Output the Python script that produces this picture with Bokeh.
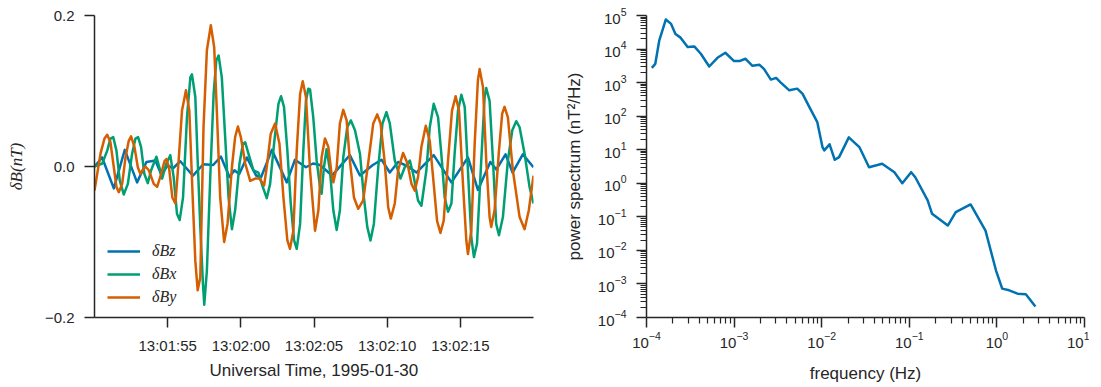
import pandas as pd
from bokeh.plotting import figure
from bokeh.models import Range1d, FixedTicker, DatetimeTickFormatter, CustomJSTickFormatter, LogTickFormatter
from bokeh.layouts import row
from bokeh.embed import file_html
from bokeh.resources import INLINE

# ---------------- data: time series ----------------
date_str = "1995-01-30"
start_time = "13:01:50"
end_time = "13:02:20"
tick_times = ["13:01:55", "13:02:00", "13:02:05", "13:02:10", "13:02:15"]
y_ticks = [-0.2, 0.0, 0.2]

# seconds after 13:01:50
t_bz = [0, 0.52, 1.32, 2.07, 2.91, 3.55, 4.16, 4.57, 4.98, 5.39, 5.86, 6.73, 7.43, 8.11, 8.64,
        9.22, 9.56, 9.89, 10.41, 11.05, 11.39, 12.12, 13.14, 13.70, 14.45, 14.93, 15.41, 16.23,
        17.45, 18.14, 19.02, 19.62, 20.18, 20.75, 21.43, 22.00, 22.57, 23.18, 24.39, 25.52,
        26.20, 27.05, 27.46, 28.09, 28.57, 29.27, 30.0]
bz = [0.000, 0.012, -0.029, 0.022, -0.021, 0.006, 0.008, -0.011, 0.001, -0.002, 0.007, -0.012,
      0.003, 0.002, 0.013, -0.014, -0.005, -0.010, 0.012, -0.012, -0.014, 0.022, -0.021, 0.009,
      -0.001, 0.004, 0.002, -0.012, 0.015, -0.012, 0.002, 0.009, -0.008, 0.006, 0.000, -0.008,
      0.003, 0.015, -0.021, 0.012, -0.031, 0.006, -0.004, 0.016, -0.008, 0.016, -0.001]

t_bx = [0.00, 0.53, 0.87, 1.09, 1.28, 1.50, 1.73, 2.00, 2.28, 2.57, 2.80, 2.98, 3.18, 3.41, 3.64,
        3.87, 4.23, 4.43, 4.62, 4.91, 5.18, 5.41, 5.64, 5.82, 6.05, 6.32, 6.55, 6.66, 6.89, 7.05,
        7.23, 7.41, 7.50, 7.68, 7.91, 8.14, 8.32, 8.48, 8.70, 8.93, 9.16, 9.39, 9.61, 9.91, 10.14,
        10.30, 10.52, 10.86, 11.20, 11.50, 11.77, 12.00, 12.27, 12.57, 12.75, 12.95, 13.18, 13.41,
        13.64, 13.82, 14.05, 14.27, 14.45, 14.61, 14.73, 14.95, 15.18, 15.41, 15.52, 15.68, 15.86,
        16.09, 16.32, 16.55, 16.77, 17.00, 17.27, 17.52, 17.80, 18.14, 18.41, 18.64, 18.86, 19.09,
        19.39, 19.68, 19.95, 20.18, 20.52, 20.91, 21.20, 21.55, 21.82, 22.11, 22.34, 22.68, 22.91,
        23.18, 23.48, 23.70, 23.93, 24.16, 24.39, 24.61, 24.84, 25.07, 25.30, 25.52, 25.75, 25.93,
        26.14, 26.43, 26.66, 26.77, 27.00, 27.23, 27.45, 27.64, 27.91, 28.25, 28.55, 28.82, 29.05,
        29.39, 29.73, 30.00]
bx = [0.000, 0.004, 0.021, 0.037, 0.039, 0.021, -0.019, -0.037, -0.023, 0.017, 0.037, 0.039,
      0.026, -0.010, -0.022, -0.005, 0.013, -0.001, -0.016, 0.004, 0.015, -0.014, -0.063, -0.071,
      -0.041, 0.065, 0.118, 0.122, 0.092, 0.008, -0.080, -0.155, -0.183, -0.138, -0.014, 0.096,
      0.140, 0.147, 0.118, 0.039, -0.041, -0.083, -0.058, 0.004, 0.030, 0.032, 0.017, -0.005,
      -0.008, -0.027, -0.042, -0.023, 0.030, 0.083, 0.093, 0.079, 0.021, -0.049, -0.098, -0.109,
      -0.076, 0.021, 0.087, 0.103, 0.102, 0.065, 0.008, -0.027, -0.036, -0.001, 0.023, -0.005,
      -0.058, -0.084, -0.058, 0.012, 0.052, 0.061, 0.048, 0.017, -0.041, -0.080, -0.098, -0.076,
      -0.001, 0.057, 0.072, 0.057, 0.008, -0.016, -0.001, 0.008, -0.014, -0.045, -0.052, -0.005,
      0.052, 0.083, 0.065, 0.017, -0.041, -0.060, -0.049, 0.017, 0.074, 0.095, 0.079, -0.005,
      -0.094, -0.120, -0.102, 0.008, 0.092, 0.104, 0.087, 0.008, -0.076, -0.091, -0.067, 0.008,
      0.048, 0.060, 0.052, 0.017, -0.027, -0.049]

t_by = [0.00, 0.41, 0.68, 0.87, 1.09, 1.32, 1.50, 1.66, 1.89, 2.12, 2.34, 2.50, 2.73, 2.96, 3.14,
        3.32, 3.48, 3.71, 4.05, 4.28, 4.55, 4.78, 4.91, 5.09, 5.32, 5.53, 5.75, 5.98, 6.25, 6.48,
        6.71, 6.89, 7.05, 7.23, 7.45, 7.68, 7.95, 8.18, 8.36, 8.59, 8.86, 9.09, 9.39, 9.61, 9.80,
        10.00, 10.30, 10.64, 10.98, 11.27, 11.59, 11.77, 12.04, 12.34, 12.64, 12.91, 13.18, 13.36,
        13.59, 13.82, 14.05, 14.23, 14.45, 14.73, 15.07, 15.30, 15.52, 15.75, 15.98, 16.20, 16.32,
        16.55, 16.77, 17.00, 17.23, 17.45, 17.73, 18.02, 18.36, 18.70, 19.05, 19.32, 19.55, 19.84,
        20.07, 20.25, 20.52, 20.75, 21.09, 21.39, 21.66, 21.89, 22.11, 22.34, 22.64, 22.91, 23.18,
        23.41, 23.64, 23.86, 24.16, 24.43, 24.68, 24.91, 25.18, 25.41, 25.52, 25.75, 25.98, 26.20,
        26.32, 26.55, 26.77, 27.00, 27.11, 27.34, 27.64, 27.86, 28.02, 28.25, 28.59, 29.05, 29.39,
        29.68, 30.00]
by = [-0.032, 0.017, 0.037, 0.042, 0.032, -0.001, -0.027, -0.034, -0.023, 0.012, 0.034, 0.040,
      0.026, -0.001, -0.010, -0.004, 0.000, -0.005, -0.023, -0.027, -0.010, 0.007, 0.010, -0.001,
      -0.041, -0.049, 0.008, 0.074, 0.101, 0.074, -0.041, -0.125, -0.164, -0.147, 0.052, 0.154,
      0.187, 0.158, 0.074, -0.041, -0.100, -0.076, -0.001, 0.039, 0.053, 0.039, 0.004, -0.019,
      -0.016, -0.016, -0.025, -0.001, 0.043, 0.057, 0.030, -0.041, -0.098, -0.109, -0.085, 0.021,
      0.096, 0.113, 0.092, -0.005, -0.085, -0.058, 0.012, 0.037, 0.026, -0.010, -0.021, -0.001,
      0.057, 0.075, 0.061, 0.008, -0.041, -0.056, -0.045, 0.004, 0.057, 0.069, 0.057, 0.004,
      -0.054, -0.069, -0.049, -0.005, 0.018, 0.004, -0.023, -0.032, -0.014, 0.026, 0.054, 0.034,
      -0.023, -0.072, -0.088, -0.072, 0.008, 0.074, 0.093, 0.074, -0.023, -0.098, -0.116, -0.085,
      0.030, 0.114, 0.129, 0.105, 0.008, -0.067, -0.080, -0.058, 0.021, 0.070, 0.079, 0.065,
      -0.005, -0.067, -0.083, -0.058, -0.012]

# ---------------- data: power spectrum ----------------
freq = [1.15e-4, 1.26e-4, 1.40e-4, 1.66e-4, 1.91e-4, 2.14e-4, 2.45e-4, 2.95e-4, 3.51e-4, 4.17e-4,
        5.20e-4, 6.46e-4, 7.94e-4, 1.00e-3, 1.15e-3, 1.35e-3, 1.62e-3, 1.95e-3, 2.19e-3, 2.63e-3,
        3.02e-3, 3.39e-3, 4.27e-3, 5.25e-3, 6.03e-3, 7.24e-3, 8.91e-3, 1.02e-2, 1.07e-2, 1.23e-2,
        1.41e-2, 1.58e-2, 2.04e-2, 2.69e-2, 3.47e-2, 4.90e-2, 6.76e-2, 8.32e-2, 1.05e-1, 1.17e-1,
        1.62e-1, 1.82e-1, 2.75e-1, 3.39e-1, 5.01e-1, 7.41e-1, 9.77e-1, 1.15, 1.38, 1.72, 2.14, 2.75]
power = [2750, 3630, 18200, 75900, 56200, 28200, 21900, 11500, 12000, 7240,
         3020, 5500, 7760, 4370, 4370, 5130, 3160, 3390, 2570, 1230,
         1380, 1020, 589, 661, 468, 186, 66.1, 12.0, 9.55, 14.5,
         5.01, 6.03, 23.4, 12.0, 3.02, 3.80, 2.14, 1.00, 2.14, 1.51,
         0.309, 0.123, 0.055, 0.138, 0.234, 0.0389, 0.00251, 0.000724, 0.000646, 0.000513,
         0.000490, 0.000214]
x_decades = [1e-4, 1e-3, 1e-2, 1e-1, 1e0, 1e1]
y_decades = [1e-4, 1e-3, 1e-2, 1e-1, 1e0, 1e1, 1e2, 1e3, 1e4, 1e5]

# ---------------- styling ----------------
AX = "#262626"
FONT = "Liberation Sans"
SERIF = "Liberation Serif"
C_BZ, C_BX, C_BY = "#0072B2", "#009E73", "#D55E00"


def style_axes(p):
    for ax in (p.xaxis[0], p.yaxis[0]):
        ax.axis_line_color = AX
        ax.axis_line_width = 1.5
        ax.major_tick_line_color = AX
        ax.major_tick_line_width = 1.5
        ax.minor_tick_line_color = AX
        ax.minor_tick_line_width = 1.2
        ax.major_tick_out = 10
        ax.major_tick_in = 0
        ax.minor_tick_out = 6
        ax.minor_tick_in = 0
        ax.major_label_text_font = FONT
        ax.major_label_text_font_size = "15px"
        ax.major_label_text_color = AX
        ax.major_label_standoff = 10
        ax.axis_label_text_font = FONT
        ax.axis_label_text_font_size = "17px"
        ax.axis_label_text_font_style = "normal"
        ax.axis_label_text_color = AX
        ax.axis_label_standoff = 8
    p.xgrid.visible = False
    p.ygrid.visible = False
    p.outline_line_color = None
    p.background_fill_color = "white"
    p.border_fill_color = "white"


base = pd.Timestamp(f"{date_str} {start_time}")


def to_dt(ts):
    return base + pd.to_timedelta(ts, unit="s")


p1 = figure(frame_width=439, frame_height=302,
            min_border_left=94, min_border_right=27, min_border_top=15, min_border_bottom=0,
            x_axis_type="datetime",
            x_range=Range1d(base, pd.Timestamp(f"{date_str} {end_time}")),
            y_range=Range1d(-0.2, 0.2),
            output_backend="svg", toolbar_location=None)
style_axes(p1)
p1.xaxis.major_label_standoff = 9
p1.xaxis.axis_label_standoff = 4
p1.yaxis.axis_label_standoff = 16

p1.line(to_dt(t_bz), bz, line_color=C_BZ, line_width=2.5, line_join="round", legend_label="δBz")
p1.line(to_dt(t_bx), bx, line_color=C_BX, line_width=2.5, line_join="round", legend_label="δBx")
p1.line(to_dt(t_by), by, line_color=C_BY, line_width=2.5, line_join="round", legend_label="δBy")

tick_ms = [pd.Timestamp(f"{date_str} {t}").value / 1e6 for t in tick_times]
p1.xaxis.ticker = FixedTicker(ticks=tick_ms, minor_ticks=[])
fmt = "%H:%M:%S"
p1.xaxis.formatter = DatetimeTickFormatter(milliseconds=fmt, seconds=fmt, minsec=fmt,
                                           minutes=fmt, hourmin=fmt, hours=fmt)
p1.yaxis.ticker = FixedTicker(ticks=y_ticks, minor_ticks=[])
p1.yaxis.formatter = CustomJSTickFormatter(
    code="return (tick < -1e-9 ? '\u2212' : '') + Math.abs(tick).toFixed(1);")
p1.xaxis.axis_label = f"Universal Time, {date_str}"
p1.yaxis.axis_label = "δB(nT)"
p1.yaxis.axis_label_text_font = SERIF
p1.yaxis.axis_label_text_font_style = "italic"
p1.yaxis.axis_label_text_font_size = "17px"

lg = p1.legend[0]
lg.location = (13, 10)
lg.padding = 0
lg.margin = 0
lg.spacing = 3
lg.glyph_width = 33
lg.glyph_height = 20
lg.label_height = 20
lg.label_standoff = 12
lg.label_text_font = SERIF
lg.label_text_font_style = "italic"
lg.label_text_font_size = "16px"
lg.label_text_color = AX
lg.border_line_color = None
lg.background_fill_alpha = 0

p2 = figure(frame_width=438, frame_height=302,
            min_border_left=86, min_border_right=5, min_border_top=15, min_border_bottom=0,
            x_axis_type="log", y_axis_type="log",
            x_range=Range1d(1e-4, 1e1), y_range=Range1d(1e-4, 1e5),
            output_backend="svg", toolbar_location=None)
style_axes(p2)
p2.xaxis.major_label_standoff = 4
p2.xaxis.axis_label_standoff = 13
p2.yaxis.axis_label_standoff = 11
p2.line(freq, power, line_color=C_BZ, line_width=2.5, line_join="round")
minor_x = [k * d for d in x_decades[:-1] for k in range(2, 10)]
minor_y = [k * d for d in y_decades[:-1] for k in range(2, 10)]
p2.xaxis.ticker = FixedTicker(ticks=x_decades, minor_ticks=minor_x)
p2.yaxis.ticker = FixedTicker(ticks=y_decades, minor_ticks=minor_y)
p2.xaxis.formatter = LogTickFormatter()
p2.yaxis.formatter = LogTickFormatter()
p2.xaxis.axis_label = "frequency (Hz)"
p2.yaxis.axis_label = "power spectrum (nT²/Hz)"

layout = row(p1, p2)
open("out.html", "w").write(file_html(layout, INLINE))
